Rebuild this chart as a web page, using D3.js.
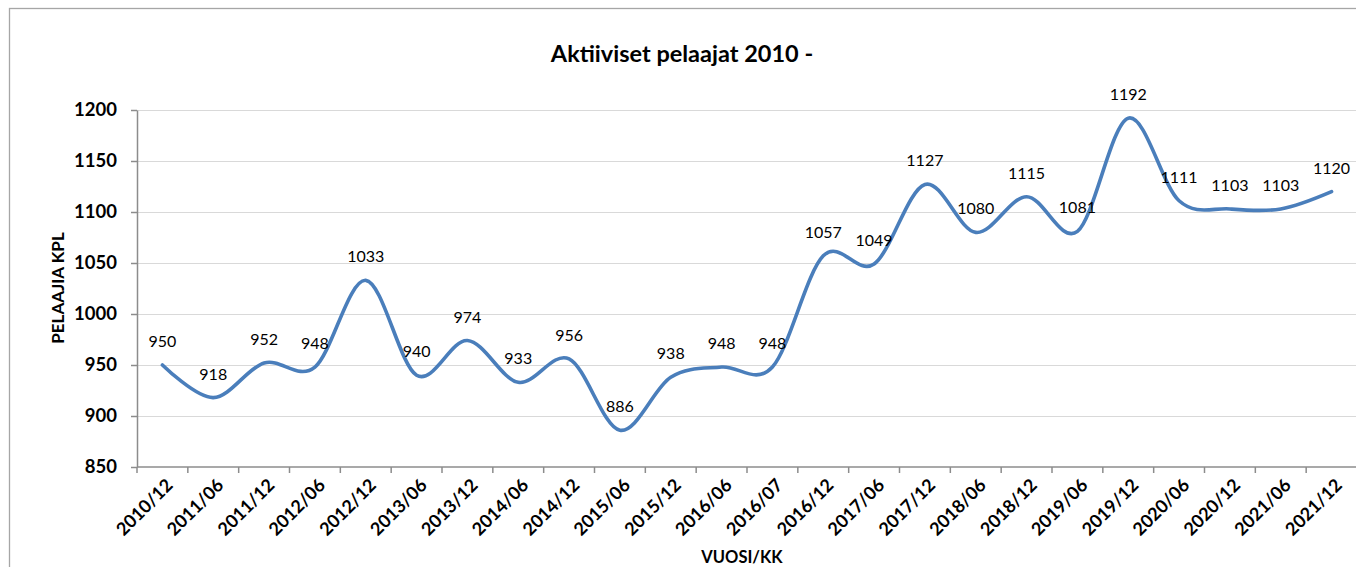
<!DOCTYPE html>
<html>
<head>
<meta charset="utf-8">
<script src="https://cdn.jsdelivr.net/npm/d3@7"></script>
<style>
  body { margin: 0; background: #fff; }
  svg { display: block; font-family: Lato, "Open Sans", sans-serif; }
</style>
</head>
<body>
<div class="svg-container"></div>
<script>
    const chart_width = 1356;
    const chart_height = 567;

    const categories = ["2010/12","2011/06","2011/12","2012/06","2012/12","2013/06","2013/12","2014/06",
      "2014/12","2015/06","2015/12","2016/06","2016/07","2016/12","2017/06","2017/12",
      "2018/06","2018/12","2019/06","2019/12","2020/06","2020/12","2021/06","2021/12"];
    const players = [950, 918, 952, 948, 1033, 940, 974, 933, 956, 886, 938, 948,
      948, 1057, 1049, 1127, 1080, 1115, 1081, 1192, 1111, 1103, 1103, 1120];
    const y_ticks = [850, 900, 950, 1000, 1050, 1100, 1150, 1200];

    const plot_left = 137, plot_right = 1357, plot_top = 110, plot_bottom = 467;

    const svg = d3.select('.svg-container').append('svg')
      .attr('width', chart_width).attr('height', chart_height);

    // chart border (runs off to right/bottom like in the screenshot)
    svg.append('rect')
      .attr('x', 9.5).attr('y', 8.5)
      .attr('width', chart_width + 20).attr('height', chart_height + 20)
      .attr('fill', 'none').attr('stroke', '#a6a6a6').attr('stroke-width', 1.3);

    const x = d3.scaleBand().domain(categories).range([plot_left, plot_right]);
    const y = d3.scaleLinear().domain([850, 1200]).range([plot_bottom, plot_top]);

    // gridlines
    svg.append('g')
      .selectAll('line')
      .data(y_ticks.slice(1))
      .enter().append('line')
        .attr('x1', plot_left).attr('x2', plot_right)
        .attr('y1', d => Math.round(y(d)) + 0.5).attr('y2', d => Math.round(y(d)) + 0.5)
        .attr('stroke', '#d9d9d9').attr('stroke-width', 1.2);

    // y axis
    const y_axis = svg.append('g')
      .attr('transform', 'translate(' + plot_left + ',0)')
      .call(d3.axisLeft(y).tickValues(y_ticks).tickFormat(d3.format('d'))
        .tickSize(6).tickSizeOuter(0).tickPadding(14));
    y_axis.selectAll('path, line').attr('stroke', '#8c8c8c').attr('stroke-width', 1.5);
    y_axis.selectAll('text')
      .attr('font-size', 18.5).attr('font-weight', 'bold').attr('fill', '#000')
      .style('font-family', 'Lato');

    // x axis: ticks at band edges
    const x_axis = svg.append('g').attr('transform', 'translate(0,' + plot_bottom + ')');
    x_axis.append('line')
      .attr('x1', plot_left).attr('x2', plot_right)
      .attr('stroke', '#8c8c8c').attr('stroke-width', 1.5);
    x_axis.selectAll('line.tick')
      .data(categories)
      .enter().append('line')
        .attr('class', 'tick')
        .attr('x1', d => x(d)).attr('x2', d => x(d))
        .attr('y1', 0).attr('y2', 6)
        .attr('stroke', '#8c8c8c').attr('stroke-width', 1.5);
    x_axis.selectAll('text')
      .data(categories)
      .enter().append('text')
        .attr('transform', d => 'translate(' + (x(d) + x.bandwidth() / 2 + 7) + ',15) rotate(-45)')
        .attr('text-anchor', 'end')
        .attr('dy', '0.35em')
        .attr('font-size', 18).attr('font-weight', 'bold')
        .text(d => d);

    // line
    const line = d3.line()
      .x((d, i) => x(categories[i]) + x.bandwidth() / 2)
      .y(d => y(d))
      .curve(d3.curveCardinal.tension(0));
    svg.append('path')
      .datum(players)
      .attr('d', line)
      .attr('fill', 'none')
      .attr('stroke', '#4a7ebb')
      .attr('stroke-width', 3.6)
      .attr('stroke-linecap', 'round');

    // data labels
    svg.append('g')
      .selectAll('text')
      .data(players)
      .enter().append('text')
        .attr('x', (d, i) => x(categories[i]) + x.bandwidth() / 2)
        .attr('y', d => y(d) - 18)
        .attr('text-anchor', 'middle')
        .attr('font-size', 16)
        .text(d => d);

    // titles
    svg.append('text')
      .attr('x', 682).attr('y', 62)
      .attr('text-anchor', 'middle')
      .attr('font-size', 23.5).attr('font-weight', 'bold')
      .text('Aktiiviset pelaajat 2010 -');
    svg.append('text')
      .attr('transform', 'translate(64,288) rotate(-90)')
      .attr('text-anchor', 'middle')
      .attr('font-size', 17).attr('font-weight', 'bold')
      .text('PELAAJIA KPL');
    svg.append('text')
      .attr('x', 742).attr('y', 563)
      .attr('text-anchor', 'middle')
      .attr('font-size', 16.5).attr('font-weight', 'bold')
      .text('VUOSI/KK');
</script>
</body>
</html>
